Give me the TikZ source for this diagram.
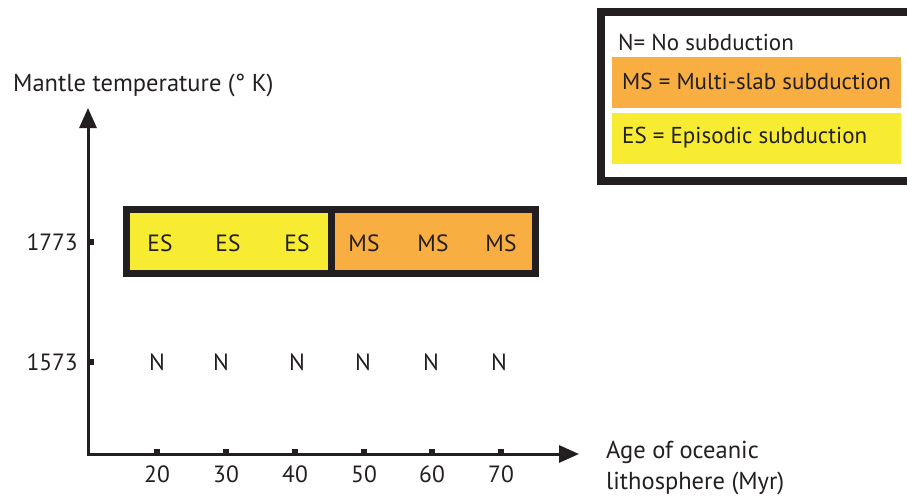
\documentclass[tikz,border=0pt]{standalone}
\usepackage{fontspec}
\setmainfont{PT Sans}
\usetikzlibrary{arrows.meta}
\definecolor{ink}{HTML}{231F20}
\definecolor{esyellow}{HTML}{F7EC31}
\definecolor{msorange}{HTML}{F9AE42}
\tikzset{
  axis/.style={draw=ink, line width=3pt, -{Triangle[length=20pt,width=17pt]}},
  tick/.style={fill=ink, minimum width=6pt, minimum height=6pt, inner sep=0pt},
  lbl/.style={text=ink, font=\fontsize{24.5}{31}\selectfont, inner sep=0pt},
  num/.style={text=ink, font=\fontsize{23.5}{28}\selectfont, inner sep=0pt},
  cell/.style={text=ink, font=\fontsize{23.5}{28}\selectfont, inner sep=0pt},
  framebox/.style={draw=ink, line width=7pt},
  legtxt/.style={text=ink, font=\fontsize{23}{27}\selectfont, inner sep=0pt, anchor=west}
}
\begin{document}
\begin{tikzpicture}[x=1pt, y=-1pt]
\useasboundingbox (0,0) rectangle (907,495);
% axes
\coordinate (O) at (88,454);
\coordinate (ytip) at (88,108);
\coordinate (xtip) at (579,454);
\draw[axis] (86.5,454) -- (xtip);
\draw[axis] (88,455.5) -- (ytip);
\node[lbl, anchor=west] (ylab) at (13,85) {Mantle temperature (° K)};
\node[lbl, anchor=west, align=left] (xlab) at (606,468) {Age of oceanic\\lithosphere (Myr)};
% y ticks
\node[tick] (t1773) at (91,242) {};
\node[tick] (t1573) at (91,362) {};
\node[num, anchor=east] at (78,242) {1773};
\node[num, anchor=east] at (78,362) {1573};
% x ticks
\foreach \x/\v in {157/20,226/30,295/40,364/50,432/60,501/70}{
  \node[tick] (tx\v) at (\x,452) {};
  \node[num] at (\x,474) {\v};
}
% regime boxes
\draw[framebox, fill=esyellow] (126.5,209.5) rectangle (331.5,273.5);
\draw[framebox, fill=msorange] (331.5,209.5) rectangle (535.5,273.5);
\foreach \x/\i in {160/1,228/2,297/3}{\node[cell] (es\i) at (\x,243) {ES};}
\foreach \x/\i in {364/1,433/2,501/3}{\node[cell] (ms\i) at (\x,243) {MS};}
\foreach \x/\i in {157/1,221/2,297/3,363/4,431/5,499/6}{\node[cell] (n\i) at (\x,362) {N};}
% legend
\draw[draw=ink, line width=8pt, fill=white] (601,12) rectangle (915,181);
\fill[msorange] (612,57) rectangle (901,108);
\fill[esyellow] (612,113) rectangle (901,164);
\node[legtxt] (legN) at (618,42) {N= No subduction};
\node[legtxt] (legMS) at (622,81) {MS = Multi-slab subduction};
\node[legtxt] (legES) at (622,138) {ES = Episodic subduction};
\end{tikzpicture}
\end{document}
